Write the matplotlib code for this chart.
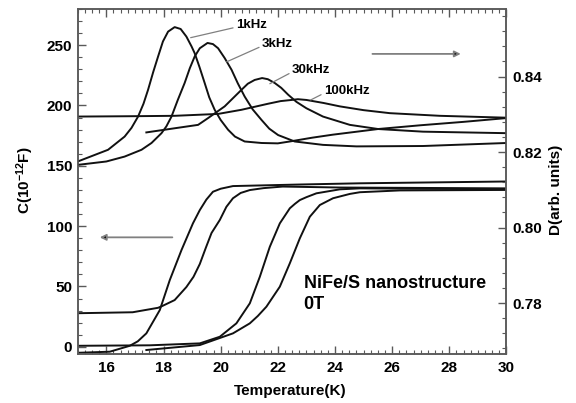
import matplotlib
matplotlib.use("Agg")
import matplotlib.pyplot as plt
from matplotlib.ticker import MultipleLocator, FormatStrFormatter

plt.rcParams["font.family"] = ["Liberation Sans", "DejaVu Sans"]
plt.rcParams["font.weight"] = "bold"
plt.rcParams["mathtext.fontset"] = "custom"
plt.rcParams["mathtext.rm"] = "Liberation Sans:bold"
plt.rcParams["mathtext.it"] = "Liberation Sans:bold"
plt.rcParams["mathtext.bf"] = "Liberation Sans:bold"

# capacitance C (1e-12 F), left axis
T_C_1K = [15, 16.12, 16.82, 17.1, 17.40, 17.87, 18.22, 18.63, 19.03, 19.27, 19.5, 19.73, 20.0, 20.43, 22.77, 24.87, 30]
C_1K = [-5.0, -4.1, 0.8, 4.5, 11.1, 30.4, 55.3, 80.2, 102.3, 113.3, 122.0, 128.5, 131.0, 133.2, 134.5, 135.5, 137.0]

T_C_3K = [15, 16.92, 17.81, 17.95, 18.39, 18.80, 19.05, 19.27, 19.48, 19.68, 19.97, 20.2, 20.43, 20.7, 21.02,
          21.5, 22.17, 24.17, 30]
C_3K = [27.8, 28.6, 32.3, 33.7, 38.7, 49.5, 58.0, 68.6, 82.0, 94.3, 105.1, 116.0, 123.1, 127.5, 129.9,
        131.5, 132.8, 132.0, 131.3]

T_C_30K = [17.40, 19.27, 20.43, 21.02, 21.3, 21.60, 22.07, 22.42, 22.77, 23.12, 23.47, 23.93, 24.52, 24.87,
           26.27, 30]
C_30K = [-2.7, 1.4, 11.1, 19.4, 25.5, 33.2, 49.8, 69.2, 89.9, 107.8, 117.5, 123.1, 126.7, 128.1, 129.6, 130.0]

T_C_100K = [15, 17.52, 19.27, 19.97, 20.55, 21.02, 21.37, 21.72, 22.07, 22.42, 22.6, 22.77, 23.0, 23.35, 24.17,
            24.87, 26.97, 30]
C_100K = [0.8, 1.2, 2.8, 8.3, 19.4, 36.0, 58.0, 82.9, 102.3, 114.8, 118.5, 121.6, 124.0, 127.2, 130.5,
          131.3, 131.0, 130.6]

# dissipation D (arb. units), right axis
T_D_1K = [15.0, 16.06, 16.64, 16.88, 17.11, 17.3, 17.46, 17.64, 17.81, 17.98, 18.16, 18.39, 18.60, 18.80, 18.98,
          19.09, 19.26, 19.44, 19.6, 19.79, 20.0, 20.26, 20.5, 20.84, 21.43, 22.0, 22.42, 23.2, 23.92, 25.51,
          27.0, 28.5, 30.0]
D_1K = [0.8175, 0.8206, 0.8241, 0.8264, 0.8294, 0.8328, 0.8365, 0.8412, 0.8453, 0.8493, 0.8519, 0.8531, 0.8526,
        0.8506, 0.8480, 0.8462, 0.8425, 0.8383, 0.8345, 0.8312, 0.8285, 0.8259, 0.8241, 0.8228, 0.8224, 0.8223,
        0.8228, 0.8238, 0.8246, 0.8261, 0.8271, 0.8280, 0.8290]

T_D_3K = [15.0, 16.0, 16.64, 17.23, 17.58, 17.93, 18.1, 18.28, 18.5, 18.74, 18.92, 19.09, 19.27, 19.54, 19.73,
          19.91, 20.14, 20.38, 20.6, 20.84, 21.12, 21.43, 21.7, 22.01, 22.59, 23.58, 24.75, 27.08, 30.0]
D_3K = [0.8166, 0.8175, 0.8188, 0.8206, 0.8224, 0.8250, 0.8268, 0.8294, 0.8338, 0.8383, 0.8422, 0.8453, 0.8475,
        0.8489, 0.8486, 0.8475, 0.8449, 0.8418, 0.8382, 0.8347, 0.8313, 0.8285, 0.8262, 0.8245, 0.8228, 0.8219,
        0.8215, 0.8216, 0.8224]

T_D_30K = [17.40, 18.39, 19.21, 19.56, 20.14, 20.73, 20.95, 21.19, 21.45, 21.65, 21.89, 22.12, 22.36, 22.65,
           23.0, 23.58, 24.52, 25.51, 27.08, 30.0]
D_30K = [0.8252, 0.8263, 0.8272, 0.8290, 0.8321, 0.8365, 0.8381, 0.8391, 0.8396, 0.8393, 0.8383, 0.8370,
         0.8352, 0.8333, 0.8316, 0.8294, 0.8272, 0.8261, 0.8254, 0.8250]

T_D_100K = [15.0, 17.0, 18.39, 19.91, 20.73, 21.66, 22.1, 22.48, 22.70, 23.0, 23.6, 24.17, 25.0, 25.92, 27.67, 30.0]
D_100K = [0.8294, 0.8295, 0.8296, 0.8301, 0.8312, 0.8328, 0.8335, 0.8338, 0.8340, 0.8338, 0.8330, 0.8321,
          0.8311, 0.8303, 0.8296, 0.8291]

# label text, label anchor, point the leader touches (T, D)
FREQ_LABELS = ["1kHz", "3kHz", "30kHz", "100kHz"]
LABEL_POS = [(20.53, 0.8537), (21.44, 0.8487), (22.49, 0.8418), (23.61, 0.8362)]
LEADER_END = [(18.95, 0.8503), (20.21, 0.8439), (21.72, 0.8381), (23.15, 0.8338)]

LINE = "#111111"
GREY = "0.5"

fig = plt.figure(figsize=(5.76, 4.03), dpi=100)
ax = fig.add_axes([0.135, 0.1216, 0.7443, 0.8561])
ax2 = ax.twinx()

for t, c in [(T_C_1K, C_1K), (T_C_3K, C_3K), (T_C_30K, C_30K), (T_C_100K, C_100K)]:
    ax.plot(t, c, color=LINE, lw=1.4, solid_joinstyle="round")
for t, d in [(T_D_1K, D_1K), (T_D_3K, D_3K), (T_D_30K, D_30K), (T_D_100K, D_100K)]:
    ax2.plot(t, d, color=LINE, lw=1.4, solid_joinstyle="round")

ax.set_xlim(15, 30)
ax.set_ylim(-6, 280)
ax2.set_ylim(0.7665, 0.8579)

ax.xaxis.set_major_locator(MultipleLocator(2))
ax.xaxis.set_minor_locator(MultipleLocator(0.25))
ax.yaxis.set_major_locator(MultipleLocator(50))
ax.yaxis.set_minor_locator(MultipleLocator(10))
ax2.yaxis.set_major_locator(MultipleLocator(0.02))
ax2.yaxis.set_minor_locator(MultipleLocator(0.004))
ax2.yaxis.set_major_formatter(FormatStrFormatter("%.2f"))

ax.tick_params(axis="x", which="both", direction="in", top=True, bottom=True,
               color="0.35", labelsize=11, pad=5)
ax.tick_params(axis="y", which="both", direction="in", left=True, right=False,
               color="0.35", labelsize=11, pad=4)
ax2.tick_params(axis="y", which="both", direction="in", right=True,
                color="0.35", labelsize=11, pad=4)
for a in (ax, ax2):
    a.tick_params(which="major", length=6, width=1)
    a.tick_params(which="minor", length=3, width=0.8)
    for s in a.spines.values():
        s.set_color("0.35")
        s.set_linewidth(1.1)

ax.set_xlabel("Temperature(K)", fontsize=11, fontweight="bold")
ax.set_ylabel("C(10$^{-12}$F)", fontsize=11, fontweight="bold")
ax2.set_ylabel("D(arb. units)", fontsize=11, fontweight="bold")
ax.xaxis.set_label_coords(0.496, -0.088)
ax.yaxis.set_label_coords(-0.097, 0.504)
ax2.yaxis.set_label_coords(1.10, 0.476)

for lab, pos, end in zip(FREQ_LABELS, LABEL_POS, LEADER_END):
    ax2.annotate(lab, xy=end, xytext=pos, ha="left", va="center", fontsize=9.5,
                 fontweight="bold",
                 arrowprops=dict(arrowstyle="-", color=GREY, lw=0.9, relpos=(0, 0.3),
                                 shrinkA=0, shrinkB=0))

# direction arrows: lower set -> left axis, upper set -> right axis
ax.annotate("", xy=(15.77, 90.7), xytext=(18.31, 90.7),
            arrowprops=dict(arrowstyle="-|>", ec=GREY, fc="k", lw=1.3, mutation_scale=9,
                            shrinkA=0, shrinkB=0))
ax2.annotate("", xy=(28.40, 0.8460), xytext=(25.31, 0.8460),
             arrowprops=dict(arrowstyle="-|>", ec=GREY, fc="k", lw=1.3, mutation_scale=9,
                             shrinkA=0, shrinkB=0))

ax.text(0.527, 0.203, "NiFe/S nanostructure", transform=ax.transAxes, fontsize=13,
        fontweight="bold", ha="left", va="center")
ax.text(0.527, 0.144, "0T", transform=ax.transAxes, fontsize=13,
        fontweight="bold", ha="left", va="center")

fig.savefig("out.png", dpi=100)
